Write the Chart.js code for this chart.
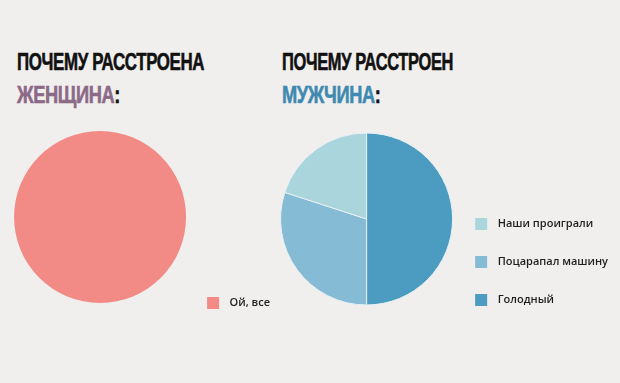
<!DOCTYPE html>
<html>
<head>
<meta charset="utf-8">
<title>Почему расстроена</title>
<script src="https://cdn.jsdelivr.net/npm/chart.js@4"></script>
<style>
  html, body { margin: 0; padding: 0; }
  body { width: 620px; height: 383px; background: #f1efee; position: relative; overflow: hidden; }
  .title { position: absolute; font-family: "Liberation Sans", sans-serif; font-weight: bold;
           font-size: 24px; line-height: 33px; transform-origin: 0 0;
           white-space: nowrap; color: #111; letter-spacing: -0.5px;
           -webkit-text-stroke: 0.6px currentColor; }
  .woman { color: #8b6a88; }
  .man { color: #3e8ab0; }
  .box { position: absolute; }
</style>
</head>
<body>
<div class="title" style="left:17px; top:45px; transform: scaleX(0.703);">ПОЧЕМУ РАССТРОЕНА</div>
<div class="title" style="left:17px; top:78px; transform: scaleX(0.761);"><span class="woman">ЖЕНЩИНА</span>:</div>
<div class="title" style="left:282px; top:45px; transform: scaleX(0.686);">ПОЧЕМУ РАССТРОЕН</div>
<div class="title" style="left:282px; top:78px; transform: scaleX(0.76);"><span class="man">МУЖЧИНА</span>:</div>

<div class="box" style="left:14px; top:104px; width:266px; height:226px;"><canvas id="womanChart"></canvas></div>
<div class="box" style="left:279px; top:111px; width:339px; height:216px;"><canvas id="manChart"></canvas></div>

<script>
// data
var womanLabels = ['Ой, все'];
var womanValues = [100];
var manLabels = ['Голодный', 'Поцарапал машину', 'Наши проиграли'];
var manValues = [50, 30, 20];

var womanColors = ['#f28b85'];
var manColors = ['#4c9cc1', '#86bbd5', '#aad5dc'];

var pageBg = '#f1efee';
var legendFont = { family: 'Open Sans', weight: '600', size: 11 };

// legend boxes are 22px tall to get the row spacing; a thick stroke in the
// page colour trims the visible square down to 12px
function legendLabels(chart) {
  var items = Chart.overrides.pie.plugins.legend.labels.generateLabels(chart);
  items.forEach(function (it) {
    it.strokeStyle = pageBg;
    it.lineWidth = 10;
  });
  return items;
}

function makeOptions(reverse) {
  return {
    responsive: true,
    maintainAspectRatio: false,
    animation: false,
    layout: { padding: 0 },
    plugins: {
      tooltip: { enabled: false },
      legend: {
        position: 'right',
        align: 'end',
        reverse: reverse,
        labels: {
          boxWidth: 22,
          boxHeight: 22,
          padding: 16,
          color: '#1e1e1e',
          font: legendFont,
          generateLabels: legendLabels
        }
      }
    }
  };
}

new Chart(document.getElementById('womanChart'), {
  type: 'pie',
  data: {
    labels: womanLabels,
    datasets: [{ data: womanValues, backgroundColor: womanColors, borderWidth: 0, radius: 86, clip: false }]
  },
  options: makeOptions(false)
});

new Chart(document.getElementById('manChart'), {
  type: 'pie',
  data: {
    labels: manLabels,
    datasets: [{ data: manValues, backgroundColor: manColors, borderColor: '#e6f0f2', borderWidth: 1, radius: 86, clip: false }]
  },
  options: makeOptions(true)
});
</script>
</body>
</html>
